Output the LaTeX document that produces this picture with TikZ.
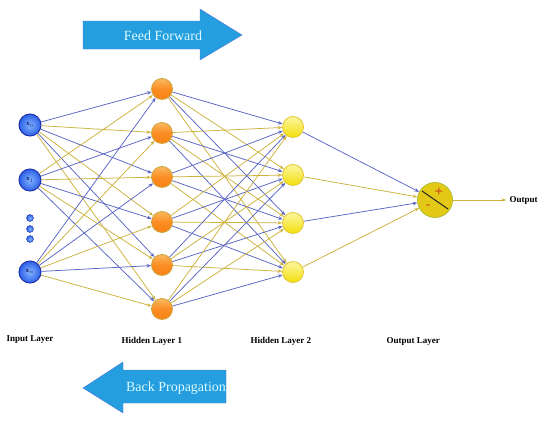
\documentclass[tikz,border=0pt]{standalone}
\usepackage{fontspec}
\setmainfont{Liberation Serif}
\usetikzlibrary{arrows.meta}
\definecolor{eblue}{RGB}{88,100,195}
\definecolor{eolive}{RGB}{204,178,62}
\definecolor{arrblue}{RGB}{36,158,222}
\definecolor{arredge}{RGB}{90,120,215}
\definecolor{arrtext}{RGB}{220,250,255}
\definecolor{inlight}{RGB}{130,180,255}
\definecolor{inblue}{RGB}{45,95,232}
\definecolor{indark}{RGB}{30,50,170}
\definecolor{intext}{RGB}{20,30,100}
\definecolor{orlight}{RGB}{252,185,95}
\definecolor{ordark}{RGB}{250,130,20}
\definecolor{oredge}{RGB}{205,165,60}
\definecolor{ylight}{RGB}{252,246,160}
\definecolor{ydark}{RGB}{242,222,10}
\definecolor{yedge}{RGB}{225,200,50}
\definecolor{outyel}{RGB}{228,200,22}
\definecolor{outedge}{RGB}{175,190,50}
\definecolor{sign}{RGB}{205,70,25}
\begin{document}
\begin{tikzpicture}[x=1pt,y=-1pt,
  inp/.style={circle,minimum size=22pt,inner sep=0pt,shading=radial,inner color=inlight,outer color=inblue,draw=indark,line width=1pt,font=\fontsize{6.5}{6.5}\selectfont\bfseries,text=intext},
  dotn/.style={circle,minimum size=7pt,inner sep=0pt,shading=radial,inner color=inlight,outer color=inblue,draw=indark,line width=0.4pt},
  hone/.style={circle,minimum size=21pt,inner sep=0pt,top color=orlight,bottom color=ordark,middle color=ordark!80!orlight,draw=oredge,line width=0.8pt},
  htwo/.style={circle,minimum size=21pt,inner sep=0pt,top color=ylight,bottom color=ydark,draw=yedge,line width=0.8pt},
  outn/.style={circle,minimum size=35pt,inner sep=0pt,fill=outyel,draw=outedge,line width=0.8pt},
  edge/.style={line width=0.75pt,-{Stealth[length=4.5pt,width=3.5pt]}},
  lbl/.style={font=\fontsize{9}{10}\selectfont\bfseries,anchor=west},
  bigarr/.style={fill=arrblue,draw=arredge,line width=0.4pt},
  arrtxt/.style={font=\fontsize{14}{16}\selectfont,text=arrtext}
]
\useasboundingbox (0,0) rectangle (550,421);
% input layer
\node[inp] (i1) at (30,125) {x$_0$};
\node[inp] (i2) at (30,180) {x$_1$};
\node[inp] (i3) at (30,272) {x$_n$};
\node[dotn] (d1) at (30,218) {};
\node[dotn] (d2) at (30,229) {};
\node[dotn] (d3) at (30,239) {};
% hidden layer 1
\foreach \j/\y in {1/89,2/133,3/177,4/222,5/265,6/309}
  \node[hone] (a\j) at (162,\y) {};
% hidden layer 2
\foreach \k/\y in {1/127,2/175,3/223,4/272}
  \node[htwo] (b\k) at (293,\y) {};
% output
\node[outn] (o) at (435,200) {};
\draw[line width=1pt,black!85] ([shift={(-13,-9)}]o.center) -- ([shift={(13,9)}]o.center);
\node[text=sign,font=\bfseries\fontsize{15}{15}\selectfont,inner sep=0pt] (plus) at (439,192) {+};
\node[text=sign,font=\bfseries\fontsize{13}{13}\selectfont,inner sep=0pt] (minus) at (428,207) {-};
% edges input -> hidden 1
\foreach \i in {1,2,3}{
  \foreach \j in {1,...,6}{
    \pgfmathtruncatemacro{\p}{mod(\i+\j,2)}
    \ifnum\p=0 \def\ec{eblue}\else\def\ec{eolive}\fi
    \draw[edge,\ec] (i\i) -- (a\j);
  }
}
% edges hidden 1 -> hidden 2
\foreach \j in {1,...,6}{
  \foreach \k in {1,...,4}{
    \pgfmathtruncatemacro{\p}{mod(\j+\k,2)}
    \ifnum\p=0 \def\ec{eblue}\else\def\ec{eolive}\fi
    \draw[edge,\ec] (a\j) -- (b\k);
  }
}
% edges hidden 2 -> output
\draw[edge,eblue] (b1) -- (o);
\draw[edge,eolive] (b2) -- (o);
\draw[edge,eblue] (b3) -- (o);
\draw[edge,eolive] (b4) -- (o);
\coordinate (oend) at (506,200);
\draw[edge,eolive] (o) -- (oend);
\node[lbl] (outlbl) at (506,200) {Output};
% layer labels
\node[lbl] (l1) at (3,340) {Input Layer};
\node[lbl] (l2) at (118,341) {Hidden Layer 1};
\node[lbl] (l3) at (247,341) {Hidden Layer 2};
\node[lbl] (l4) at (383,341) {Output Layer};
% feed forward arrow
\fill[bigarr] (83,21) -- (200,21) -- (200,9) -- (242,35) -- (200,60) -- (200,49) -- (83,49) -- cycle;
\node[arrtxt] (ff) at (163,36) {Feed Forward};
% back propagation arrow
\fill[bigarr] (226,370) -- (123,370) -- (123,362) -- (83,388) -- (123,413) -- (123,403) -- (226,403) -- cycle;
\node[arrtxt] (bp) at (176,388) {Back Propagation};
\end{tikzpicture}
\end{document}
